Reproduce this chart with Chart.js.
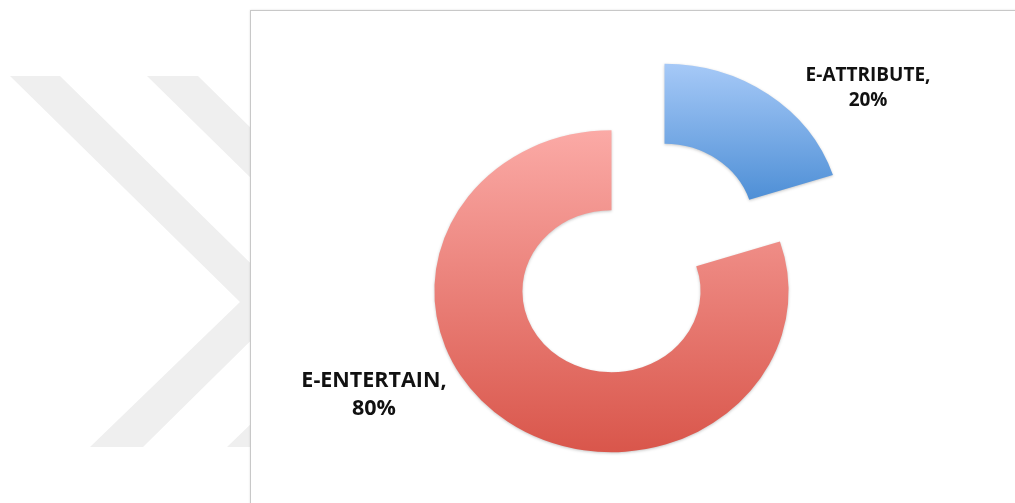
<!DOCTYPE html>
<html><head><meta charset="utf-8">
<script src="https://cdn.jsdelivr.net/npm/chart.js@4.4.1/dist/chart.umd.min.js"></script>
<style>
html,body{margin:0;padding:0;background:#fff;}
#wrap{position:relative;width:1015px;height:503px;overflow:hidden;}
#wm{position:absolute;left:0;top:0;}
#frame{position:absolute;left:250px;top:10px;width:900px;height:700px;border:1px solid #c8c8c8;background:#fff;box-shadow:0 0 2px rgba(0,0,0,0.12);}
#cw{position:absolute;left:0;top:0;width:1015px;height:503px;}
</style></head>
<body><div id="wrap">
<svg id="wm" width="1015" height="503"><polygon points="10,76 60,76 290,302 143,447 90,447 240,302" fill="#efefef"/><polygon points="147,76 198,76 428,302 280,447 227,447 377,302" fill="#efefef"/></svg>
<div id="frame"></div>
<div id="cw"><canvas id="c"></canvas></div>
</div>
<script>
const categories = ['E-ATTRIBUTE', 'E-ENTERTAIN'];
const shares = [20, 80];
const shareLabels = ['20%', '80%'];

const EXPLODE = 41;      // slice separation
const STRETCH = 1.1;     // horizontal stretch of the pie
const topColors = ['#a6c9f7', '#fbaaa6'];
const bottomColors = ['#4e8fd6', '#d9564b'];

function sliceGradient(ctx) {
  const chart = ctx.chart, area = chart.chartArea;
  if (!area) return topColors[ctx.dataIndex];
  const cy = (area.top + area.bottom) / 2;
  const R = 161, r = 81;
  let y0, y1;
  if (ctx.dataIndex === 0) { y0 = cy - EXPLODE * Math.cos(Math.PI / 5) - R; y1 = cy - EXPLODE * Math.cos(Math.PI / 5) - r * Math.cos(2 * Math.PI / 5); }
  else { y0 = cy + EXPLODE * Math.cos(Math.PI / 5) - R; y1 = cy + EXPLODE * Math.cos(Math.PI / 5) + R; }
  const g = chart.ctx.createLinearGradient(0, y0, 0, y1);
  g.addColorStop(0, topColors[ctx.dataIndex]);
  g.addColorStop(1, bottomColors[ctx.dataIndex]);
  return g;
}

const explodePlugin = {
  id: 'explode',
  afterDatasetUpdate(chart, args) {
    args.meta.data.forEach(el => {
      const mid = (el.startAngle + el.endAngle) / 2;
      el.x += Math.cos(mid) * EXPLODE;
      el.y += Math.sin(mid) * EXPLODE;
    });
  },
  beforeDatasetsDraw(chart) {
    const a = chart.chartArea, cx = (a.left + a.right) / 2, ctx = chart.ctx;
    ctx.save();
    ctx.translate(cx, 0); ctx.scale(STRETCH, 1); ctx.translate(-cx, 0);
    ctx.shadowColor = 'rgba(0,0,0,0.22)';
    ctx.shadowBlur = 3;
    ctx.shadowOffsetY = 1;
  },
  afterDatasetsDraw(chart) { chart.ctx.restore(); }
};

const labelPlugin = {
  id: 'sliceLabels',
  afterDraw(chart) {
    const a = chart.chartArea, cx = (a.left + a.right) / 2, cy = (a.top + a.bottom) / 2;
    const ctx = chart.ctx;
    const R = chart.getDatasetMeta(0).data[0].outerRadius;
    const anchors = [[1.429, -1.053], [-1.640, 0.848]];
    const sizes = [19, 21.5];
    const gaps = [12.5, 14];
    ctx.save();
    ctx.fillStyle = '#111';
    ctx.textAlign = 'center';
    ctx.textBaseline = 'middle';
    categories.forEach((c, i) => {
      ctx.font = 'bold ' + sizes[i] + 'px "Open Sans", sans-serif';
      const x = cx + anchors[i][0] * R, y = cy + anchors[i][1] * R;
      ctx.fillText(c + ',', x, y - gaps[i]);
      ctx.fillText(shareLabels[i], x, y + gaps[i]);
    });
    ctx.restore();
  }
};

new Chart(document.getElementById('c'), {
  type: 'doughnut',
  data: { labels: categories, datasets: [{ data: shares, backgroundColor: sliceGradient, borderWidth: 0, radius: 161, cutout: '50.3%' }] },
  options: {
    responsive: true, maintainAspectRatio: false, animation: false, events: [],
    layout: { padding: { left: 261, top: 13, right: 0, bottom: 0 } },
    plugins: { legend: { display: false }, tooltip: { enabled: false } }
  },
  plugins: [explodePlugin, labelPlugin]
});
</script>
</body></html>
